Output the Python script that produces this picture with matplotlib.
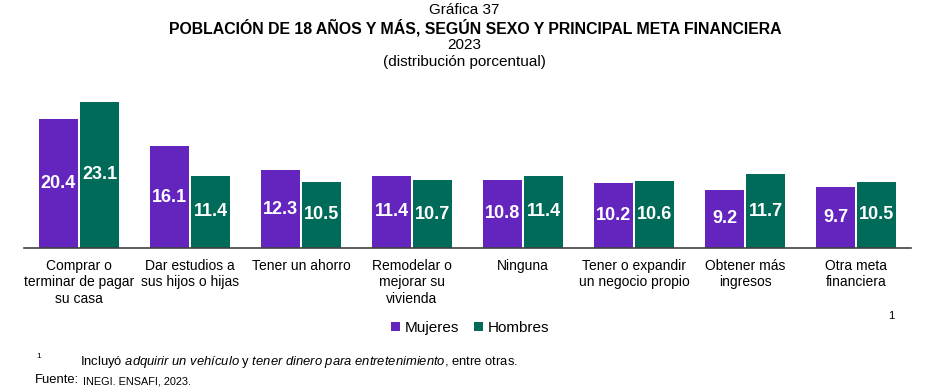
import matplotlib.pyplot as plt
import numpy as np

plt.rcParams['font.family'] = ['Liberation Sans', 'DejaVu Sans']
plt.rcParams['mathtext.fontset'] = 'custom'
plt.rcParams['mathtext.rm'] = 'Liberation Sans'
plt.rcParams['mathtext.it'] = 'Liberation Sans:italic'

# datos de la grafica
categorias = ['Comprar o\nterminar de pagar\nsu casa', 'Dar estudios a\nsus hijos o hijas',
              'Tener un ahorro', 'Remodelar o\nmejorar su\nvivienda', 'Ninguna',
              'Tener o expandir\nun negocio propio', 'Obtener más\ningresos',
              'Otra meta\nfinanciera']
mujeres = [20.4, 16.1, 12.3, 11.4, 10.8, 10.2, 9.2, 9.7]
hombres = [23.1, 11.4, 10.5, 10.7, 11.4, 10.6, 11.7, 10.5]

morado = '#6424BE'
verde = '#006B58'

fig = plt.figure(figsize=(9.29, 3.91), dpi=100)
ax = fig.add_axes([23.5/929, 1-248/391, (911.5-23.5)/929, 148/391])

x = np.arange(len(categorias))
w = 0.352
b1 = ax.bar(x - w/2 - 0.009, mujeres, w, color=morado, label='Mujeres')
b2 = ax.bar(x + w/2 + 0.009, hombres, w, color=verde, label='Hombres')

for barras in (b1, b2):
    for b in barras:
        h = b.get_height()
        ax.text(b.get_x() + b.get_width()/2, h/2, f'{h:.1f}', ha='center', va='center',
                color='white', fontsize=13, fontweight='bold')

ax.set_xlim(-0.5, len(categorias) - 0.5)
ax.set_ylim(0, 23.4)
ax.set_yticks([])
ax.set_xticks([])
for s in ['top', 'right', 'left']:
    ax.spines[s].set_visible(False)
ax.spines['bottom'].set_color('#404040')
ax.spines['bottom'].set_linewidth(1.2)

for i, c in enumerate(categorias):
    ax.annotate(c, (i, 0), xytext=(0, -8), textcoords='offset points',
                ha='center', va='top', fontsize=10, linespacing=1.2)

# titulos
fig.text(0.5, 1-10/391, 'Gráfica 37', ha='center', va='center', fontsize=11)
fig.text(0.512, 1-28/391, 'POBLACIÓN DE 18 AÑOS Y MÁS, SEGÚN SEXO Y PRINCIPAL META FINANCIERA',
         ha='center', va='center', fontsize=11.4, fontweight='bold')
fig.text(0.5, 1-45/391, '2023', ha='center', va='center', fontsize=11)
fig.text(0.5, 1-62/391, '(distribución porcentual)', ha='center', va='center', fontsize=11)

fig.legend(handles=[b1, b2], loc='center', bbox_to_anchor=(470/929, 1-328/391), ncol=2,
           frameon=False, fontsize=11, handlelength=0.6, handleheight=0.6,
           handletextpad=0.3, columnspacing=1.0)
fig.text(891/929, 1-316/391, '1', ha='center', va='center', fontsize=8)

# notas
fig.text(39/929, 1-357/391, '1', ha='center', va='center', fontsize=6)
fig.text(80/929, 1-362/391,
         r'Incluyó $\it{adquirir\ un\ vehículo}$ y $\it{tener\ dinero\ para\ entretenimiento}$, entre otras.',
         ha='left', va='center', fontsize=9.4)
fuente = fig.text(35/929, 1-383/391, 'Fuente:', ha='left', va='baseline', fontsize=9.4)
ax.annotate('INEGI. ENSAFI, 2023.', xy=(1, 0), xycoords=fuente, xytext=(3, 0),
            textcoords='offset points', ha='left', va='bottom', fontsize=7.8,
            annotation_clip=False)

fig.savefig('out.png', dpi=100)
